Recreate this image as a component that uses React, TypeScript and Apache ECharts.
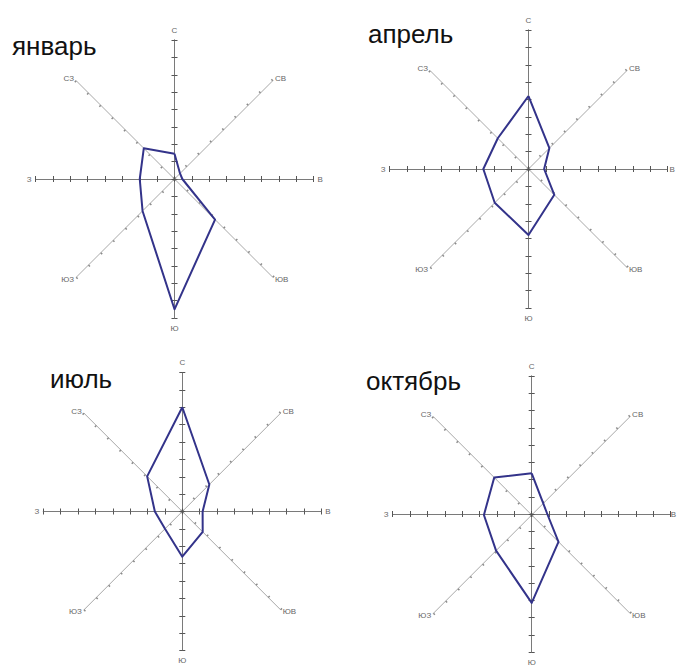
import React, { useEffect, useRef } from "react";
import * as echarts from "echarts";

// Directions, clockwise from north
const directions = ["С", "СВ", "В", "ЮВ", "Ю", "ЮЗ", "З", "СЗ"];
const months = ["январь", "апрель", "июль", "октябрь"];
// Values in the same clockwise order as `directions`
const january = [1.45, 0.45, 0.45, 3.3, 7.5, 2.6, 2.0, 2.5];
const april = [4.2, 1.7, 0.9, 2.1, 3.8, 2.75, 2.6, 2.5];
const july = [6.0, 2.2, 1.17, 1.66, 2.6, 1.41, 1.58, 2.86];
const october = [2.4, 0.94, 0.92, 2.18, 5.06, 2.9, 2.75, 3.05];
const axisMax = 8;

const seriesValues = [january, april, july, october];

// layout of the four panels
const layout = [
  { cx: 174.5, cy: 179, tx: 12, ty: 46, eGap: 4 },
  { cx: 528.5, cy: 169, tx: 368, ty: 34, eGap: 2 },
  { cx: 182.3, cy: 511.5, tx: 50, ty: 379, eGap: 4 },
  { cx: 531.7, cy: 515, tx: 366, ty: 381, eGap: 0 },
];
const R = 139;

// counter-clockwise order used by the radar (starting at north)
const ccwIdx = [0, 7, 6, 5, 4, 3, 2, 1];
const diagNames = ["СЗ", "ЮЗ", "ЮВ", "СВ"];
const FONT = "Liberation Sans, Arial, sans-serif";
const nameStyle = { color: "#666", fontSize: 8, fontFamily: FONT };

export default function App() {
  const ref = useRef<HTMLDivElement>(null);
  useEffect(() => {
    document.body.style.margin = "0";
    const chart = echarts.init(ref.current!, null, { renderer: "svg" });
    const radars: any[] = [];
    const series: any[] = [];
    const graphics: any[] = [];
    const grids: any[] = [];
    const xAxes: any[] = [];
    const yAxes: any[] = [];
    layout.forEach((p, i) => {
      // main axes (С–Ю, З–В) as cartesian axes crossing at zero
      grids.push({ left: p.cx - R, top: p.cy - R, width: 2 * R, height: 2 * R });
      const gi = grids.length - 1;
      const mainAxis = (
        position: string,
        inside: boolean,
        name: string,
        loc: string,
        gap: number
      ) => ({
        type: "value",
        gridIndex: gi,
        position,
        min: -axisMax,
        max: axisMax,
        interval: 1,
        name,
        nameLocation: loc,
        nameGap: gap,
        nameTextStyle: nameStyle,
        axisLine: { show: true, onZero: true, lineStyle: { color: "#7a7a7a", width: 1 } },
        axisTick: { show: true, inside, length: 3, lineStyle: { color: "#555", width: 1 } },
        axisLabel: { show: false },
        splitLine: { show: false },
      });
      xAxes.push(mainAxis("bottom", false, "В", "end", p.eGap));
      xAxes.push(mainAxis("bottom", true, "З", "start", 4));
      yAxes.push(mainAxis("left", false, "С", "end", 6));
      yAxes.push(mainAxis("left", true, "Ю", "start", 6));

      const base = {
        center: [p.cx, p.cy],
        radius: R,
        splitNumber: axisMax,
        shape: "polygon",
        splitLine: { show: false },
        splitArea: { show: false },
        axisLabel: { show: false },
      };
      // diagonal axes
      radars.push({
        ...base,
        startAngle: 135,
        indicator: diagNames.map((n) => ({ name: n, min: 0, max: axisMax })),
        axisName: nameStyle,
        nameGap: 3,
        axisLine: { show: true, lineStyle: { color: "#a8a8a8", width: 1 } },
        axisTick: { show: true, length: 2, lineStyle: { color: "#8a8a8a", width: 1.5 } },
      });
      // data radar (8 directions, invisible axes)
      radars.push({
        ...base,
        startAngle: 90,
        indicator: directions.map(() => ({ name: "", min: 0, max: axisMax })),
        axisName: { show: false },
        axisLine: { show: false },
        axisTick: { show: false },
      });
      const vals = seriesValues[i];
      series.push({
        type: "radar",
        radarIndex: radars.length - 1,
        symbol: "none",
        z: 5,
        lineStyle: { color: "#33338a", width: 2 },
        data: [{ value: ccwIdx.map((k) => vals[k]), name: months[i] }],
      });
      graphics.push({
        type: "text",
        x: p.tx,
        y: p.ty,
        style: {
          text: months[i],
          fill: "#111",
          fontSize: 26,
          fontFamily: FONT,
          verticalAlign: "middle",
          align: "left",
        },
      });
    });
    chart.setOption({
      animation: false,
      backgroundColor: "#fff",
      grid: grids,
      xAxis: xAxes,
      yAxis: yAxes,
      radar: radars,
      series,
      graphic: graphics,
    });
    return () => chart.dispose();
  }, []);
  return <div ref={ref} style={{ width: 677, height: 666 }} />;
}
